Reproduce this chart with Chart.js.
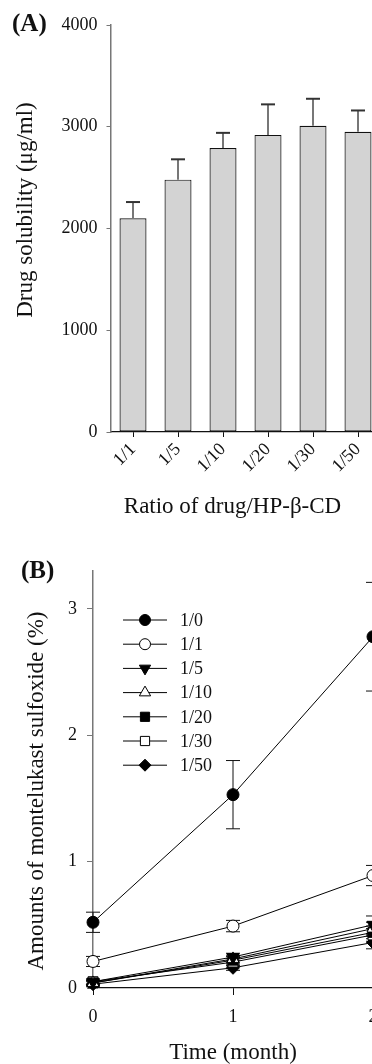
<!DOCTYPE html>
<html>
<head>
<meta charset="utf-8">
<script src="https://cdn.jsdelivr.net/npm/chart.js@4.4.1/dist/chart.umd.min.js"></script>
<style>
  body { margin: 0; background: #fff; overflow: hidden; width: 372px; height: 1064px; position: relative; }
  canvas { position: absolute; left: 0; }
  #chartA { top: 0; }
  #chartB { top: 540px; }
</style>
</head>
<body>
<canvas id="chartA" width="420" height="540"></canvas>
<canvas id="chartB" width="420" height="524"></canvas>
<script>
// ---- Panel A: solubility vs ratio ----
const ratioLabels = ['1/1', '1/5', '1/10', '1/20', '1/30', '1/50'];
const solubility = [2100, 2480, 2790, 2920, 3010, 2950];
const solubilityErr = [160, 200, 150, 300, 265, 210];
const solubilityTicks = [0, 1000, 2000, 3000, 4000];

// ---- Panel B: sulfoxide vs time ----
const months = [0, 1, 2];
const monthTicks = [0, 1, 2];
const sulfoxideTicks = [0, 1, 2, 3];
const seriesNames = ['1/0', '1/1', '1/5', '1/10', '1/20', '1/30', '1/50'];
const ratio1_0 = [0.52, 1.53, 2.78];
const ratio1_1 = [0.21, 0.49, 0.89];
const ratio1_5 = [0.05, 0.245, 0.50];
const ratio1_10 = [0.04, 0.23, 0.47];
const ratio1_20 = [0.04, 0.22, 0.44];
const ratio1_30 = [0.05, 0.205, 0.42];
const ratio1_50 = [0.03, 0.16, 0.36];
const err1_0 = [0.08, 0.27, 0.43];
const err1_1 = [0.04, 0.045, 0.08];
const err1_5 = [0.02, 0.03, 0.07];
const err1_10 = [0.02, 0.03, 0.05];
const err1_20 = [0.02, 0.03, 0.05];
const err1_30 = [0.02, 0.03, 0.05];
const err1_50 = [0.02, 0.02, 0.05];

const seriesValues = [ratio1_0, ratio1_1, ratio1_5, ratio1_10, ratio1_20, ratio1_30, ratio1_50];
const seriesErrors = [err1_0, err1_1, err1_5, err1_10, err1_20, err1_30, err1_50];

// marker look for each series (style only)
const markerStyles = [
    { pointStyle: 'circle', fill: '#000', radius: 6, rotation: 0 },
    { pointStyle: 'circle', fill: '#fff', radius: 6, rotation: 0 },
    { pointStyle: 'triangle', fill: '#000', radius: 7, rotation: 180 },
    { pointStyle: 'triangle', fill: '#fff', radius: 7, rotation: 0 },
    { pointStyle: 'rect', fill: '#000', radius: 7, rotation: 0 },
    { pointStyle: 'rect', fill: '#fff', radius: 7, rotation: 0 },
    { pointStyle: 'rectRot', fill: '#000', radius: 6.5, rotation: 0 }
];

const SERIF = "'Liberation Serif', 'Times New Roman', serif";
Chart.defaults.font.family = SERIF;
Chart.defaults.color = '#111';

// Free text (panel letters, axis titles)
function makeCaptions(items) {
    return {
        id: 'captions',
        afterDraw(chart) {
            const ctx = chart.ctx;
            items.forEach(c => {
                ctx.save();
                ctx.font = c.font;
                ctx.fillStyle = '#111';
                ctx.textAlign = c.align || 'center';
                ctx.textBaseline = 'middle';
                ctx.translate(c.x, c.y);
                if (c.rotate) ctx.rotate(c.rotate);
                ctx.fillText(c.text, 0, 0);
                ctx.restore();
            });
        }
    };
}

// Error bars drawn from the dataset elements and the y scale
function makeErrorBars(errors, cfg) {
    const draw = chart => {
        const ctx = chart.ctx;
        const yScale = chart.scales.y;
        chart.data.datasets.forEach((ds, i) => {
            const meta = chart.getDatasetMeta(i);
            meta.data.forEach((el, j) => {
                const raw = ds.data[j];
                const v = typeof raw === 'object' ? raw.y : raw;
                const e = errors[i][j];
                const x = el.x;
                const yTop = yScale.getPixelForValue(v + e);
                const yMid = yScale.getPixelForValue(v);
                const yBot = cfg.upOnly ? yMid : yScale.getPixelForValue(v - e);
                ctx.save();
                ctx.lineWidth = cfg.stemWidth;
                ctx.strokeStyle = cfg.stemColor;
                ctx.beginPath();
                ctx.moveTo(x, yBot);
                ctx.lineTo(x, yTop);
                ctx.stroke();
                ctx.lineWidth = cfg.capWidth;
                ctx.strokeStyle = cfg.capColor;
                ctx.beginPath();
                ctx.moveTo(x - cfg.capHalf, yTop);
                ctx.lineTo(x + cfg.capHalf, yTop);
                if (!cfg.upOnly) {
                    ctx.moveTo(x - cfg.capHalf, yBot);
                    ctx.lineTo(x + cfg.capHalf, yBot);
                }
                ctx.stroke();
                ctx.restore();
            });
        });
    };
    return cfg.behind
        ? { id: 'errorBars', beforeDatasetsDraw: draw }
        : { id: 'errorBars', afterDatasetsDraw: draw };
}

// Line + marker legend for panel B
function makeLineLegend(cfg) {
    return {
        id: 'lineLegend',
        afterDraw(chart) {
            const ctx = chart.ctx;
            chart.data.datasets.forEach((ds, i) => {
                const y = cfg.top + i * cfg.rowGap;
                const st = markerStyles[i];
                ctx.save();
                ctx.strokeStyle = '#000';
                ctx.lineWidth = 1;
                ctx.beginPath();
                ctx.moveTo(cfg.lineLeft, y);
                ctx.lineTo(cfg.lineRight, y);
                ctx.stroke();
                ctx.fillStyle = st.fill;
                ctx.strokeStyle = '#000';
                ctx.lineWidth = 1;
                Chart.helpers.drawPoint(ctx, {
                    pointStyle: st.pointStyle,
                    rotation: st.rotation,
                    radius: st.radius - 0.5,
                    borderWidth: 1
                }, (cfg.lineLeft + cfg.lineRight) / 2, y);
                ctx.font = cfg.font;
                ctx.fillStyle = '#111';
                ctx.textAlign = 'left';
                ctx.textBaseline = 'middle';
                ctx.fillText(ds.label, cfg.textLeft, y + 1);
                ctx.restore();
            });
        }
    };
}

// ---------------- Chart A ----------------
new Chart(document.getElementById('chartA').getContext('2d'), {
    type: 'bar',
    data: {
        labels: ratioLabels,
        datasets: [{
            data: solubility,
            backgroundColor: '#d3d3d3',
            borderColor: '#111',
            borderWidth: 1.2,
            borderSkipped: false,
            barPercentage: 0.6,
            categoryPercentage: 1.0
        }]
    },
    options: {
        responsive: false,
        animation: false,
        devicePixelRatio: 1,
        layout: { padding: { left: 0, top: 25, right: 39.5, bottom: 0 } },
        plugins: { legend: { display: false }, tooltip: { enabled: false } },
        scales: {
            x: {
                offset: true,
                grid: { display: true, drawOnChartArea: false, offset: false, tickLength: 5, color: '#111' },
                border: { display: true, color: '#111', width: 1.2 },
                ticks: { minRotation: 45, maxRotation: 45, padding: 2, font: { size: 18 }, color: '#111' },
                afterFit: s => { s.height = 108; }
            },
            y: {
                min: 0,
                max: 4000,
                bounds: 'data',
                afterBuildTicks: s => { s.ticks = solubilityTicks.map(v => ({ value: v })); },
                grid: { display: true, drawOnChartArea: false, tickLength: 4, color: '#777' },
                border: { display: true, color: '#777', width: 1.5 },
                ticks: { padding: 9, font: { size: 18 }, color: '#111', callback: v => String(v) },
                afterFit: s => { s.width = 110.5; }
            }
        }
    },
    plugins: [
        makeErrorBars([solubilityErr], {
            upOnly: true, behind: false, capHalf: 7,
            stemColor: '#777', stemWidth: 2, capColor: '#333', capWidth: 2
        }),
        makeCaptions([
            { text: '(A)', x: 12, y: 25, align: 'left', font: 'bold 25px ' + SERIF },
            { text: 'Drug solubility (\u03bcg/ml)', x: 26, y: 210, rotate: -Math.PI / 2, font: '23px ' + SERIF },
            { text: 'Ratio of drug/HP-\u03b2-CD', x: 232.5, y: 507, font: '23px ' + SERIF }
        ])
    ]
});

// ---------------- Chart B ----------------
const lineDatasets = seriesNames.map((name, i) => ({
    label: name,
    data: months.map((m, j) => ({ x: m, y: seriesValues[i][j] })),
    borderColor: '#000',
    borderWidth: 1,
    tension: 0,
    clip: false,
    pointStyle: markerStyles[i].pointStyle,
    pointRotation: markerStyles[i].rotation,
    pointRadius: markerStyles[i].radius,
    pointBackgroundColor: markerStyles[i].fill,
    pointBorderColor: '#000',
    pointBorderWidth: 1
}));

new Chart(document.getElementById('chartB').getContext('2d'), {
    type: 'line',
    data: { datasets: lineDatasets },
    options: {
        responsive: false,
        animation: false,
        devicePixelRatio: 1,
        layout: { padding: { left: 0, top: 31, right: 47, bottom: 0 } },
        plugins: { legend: { display: false }, tooltip: { enabled: false } },
        scales: {
            x: {
                type: 'linear',
                min: 0,
                max: 2,
                bounds: 'data',
                afterBuildTicks: s => { s.ticks = monthTicks.map(v => ({ value: v })); },
                grid: { display: true, drawOnChartArea: false, tickLength: 7, color: '#111' },
                border: { display: true, color: '#111', width: 1.2 },
                ticks: { padding: 11, font: { size: 18 }, color: '#111', callback: v => String(v) },
                afterFit: s => { s.height = 76; }
            },
            y: {
                min: 0,
                max: 3.3,
                bounds: 'data',
                afterBuildTicks: s => { s.ticks = sulfoxideTicks.map(v => ({ value: v })); },
                grid: { display: true, drawOnChartArea: false, tickLength: 6, color: '#777' },
                border: { display: true, color: '#777', width: 1.5 },
                ticks: { padding: 10, font: { size: 18 }, color: '#111', callback: v => String(v) },
                afterFit: s => { s.width = 93; }
            }
        }
    },
    plugins: [
        makeErrorBars(seriesErrors, {
            upOnly: false, behind: true, capHalf: 7,
            stemColor: '#111', stemWidth: 1, capColor: '#111', capWidth: 1
        }),
        makeLineLegend({ top: 80, rowGap: 24.2, lineLeft: 123, lineRight: 167, textLeft: 180, font: '18px ' + SERIF }),
        makeCaptions([
            { text: '(B)', x: 21, y: 32, align: 'left', font: 'bold 25px ' + SERIF },
            { text: 'Amounts of montelukast sulfoxide (%)', x: 37, y: 251, rotate: -Math.PI / 2, font: '23px ' + SERIF },
            { text: 'Time (month)', x: 233, y: 513, font: '23px ' + SERIF }
        ])
    ]
});
</script>
</body>
</html>
